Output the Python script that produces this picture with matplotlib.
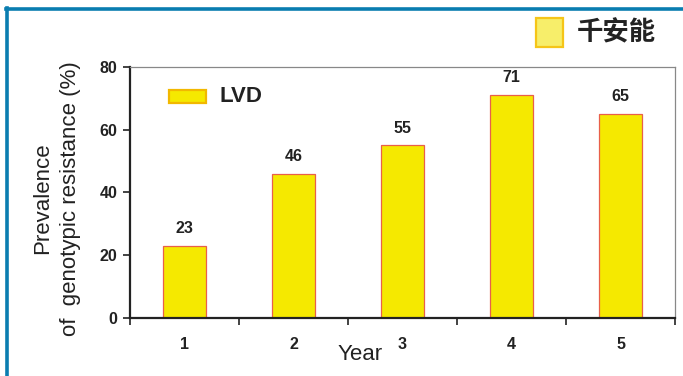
import matplotlib
matplotlib.use("Agg")
import matplotlib.pyplot as plt
from matplotlib.patches import Rectangle
from matplotlib.lines import Line2D

plt.rcParams['font.family'] = ['Liberation Sans', 'Noto Sans CJK SC', 'DejaVu Sans']

years = ["1", "2", "3", "4", "5"]
prevalence = [23, 46, 55, 71, 65]
series_name = "LVD"
corner_label = "千安能"
y_ticks = [0, 20, 40, 60, 80]

fig = plt.figure(figsize=(6.83, 3.76), dpi=100)
fig.patch.set_facecolor("white")

# blue frame along top and left edges
fig.add_artist(Line2D([0.009, 1.0], [0.976, 0.976], transform=fig.transFigure,
                      color="#0A7DB0", lw=2.6))
fig.add_artist(Line2D([0.0105, 0.0105], [0.0, 0.979], transform=fig.transFigure,
                      color="#0A7DB0", lw=2.6))

ax = fig.add_axes([0.1903, 0.1543, 0.7980, 0.6676])
x = list(range(len(years)))
ax.bar(x, prevalence, width=0.40, color="#F5E900", edgecolor="#E8604A", linewidth=0.9, zorder=2)

for xi, v in zip(x, prevalence):
    ax.annotate(str(v), (xi, v), xytext=(0, 7), textcoords="offset points",
                ha="center", va="bottom", fontsize=11.5, fontweight="bold", color="#222222")

ax.set_xlim(-0.5, len(years) - 0.5)
ax.set_ylim(0, 80)
ax.set_yticks(y_ticks)
ax.set_yticklabels([str(t) for t in y_ticks], fontsize=11.5, fontweight="bold", color="#222222")

# category labels centered under bars, separator ticks between categories
ax.set_xticks([i - 0.5 for i in range(len(years) + 1)])
ax.set_xticklabels([])
ax.set_xticks(x, minor=True)
ax.set_xticklabels(years, minor=True, fontsize=11.5, fontweight="bold", color="#222222")
ax.tick_params(axis="x", which="major", length=5, width=1.2, direction="out", color="#222222")
ax.tick_params(axis="x", which="minor", length=0, pad=14)
ax.tick_params(axis="y", length=5, width=1.2, direction="out", color="#222222", pad=4)

for s in ("left", "bottom"):
    ax.spines[s].set_color("#222222")
    ax.spines[s].set_linewidth(1.6)
for s in ("top", "right"):
    ax.spines[s].set_color("#888888")
    ax.spines[s].set_linewidth(0.9)

ax.set_xlabel("Year", fontsize=16, color="#222222")
ax.xaxis.set_label_coords(0.422, -0.147)
ax.xaxis.label.set_va("center")
fig.text(0.062, 0.473, "Prevalence", rotation=90, ha="center", va="center",
         fontsize=16, color="#222222")
fig.text(0.103, 0.473, "of  genotypic resistance (%)", rotation=90, ha="center", va="center",
         fontsize=16, color="#222222")

# series key inside plot
ax.add_patch(Rectangle((0.072, 0.855), 0.068, 0.055, transform=ax.transAxes,
                       facecolor="#F5E900", edgecolor="#F2B800", linewidth=1.6, zorder=3))
ax.text(0.165, 0.882, series_name, transform=ax.transAxes, ha="left", va="center",
        fontsize=16, fontweight="bold", color="#222222")

# corner key above plot
fig.add_artist(Rectangle((0.785, 0.875), 0.040, 0.078, transform=fig.transFigure,
                         facecolor="#F7EE6A", edgecolor="#F5C518", linewidth=1.6))
fig.text(0.845, 0.912, corner_label, ha="left", va="center", fontsize=19,
         fontweight="bold", color="#222222", family=["Noto Sans CJK SC", "DejaVu Sans"])

fig.savefig("out.png", dpi=100, facecolor="white")
